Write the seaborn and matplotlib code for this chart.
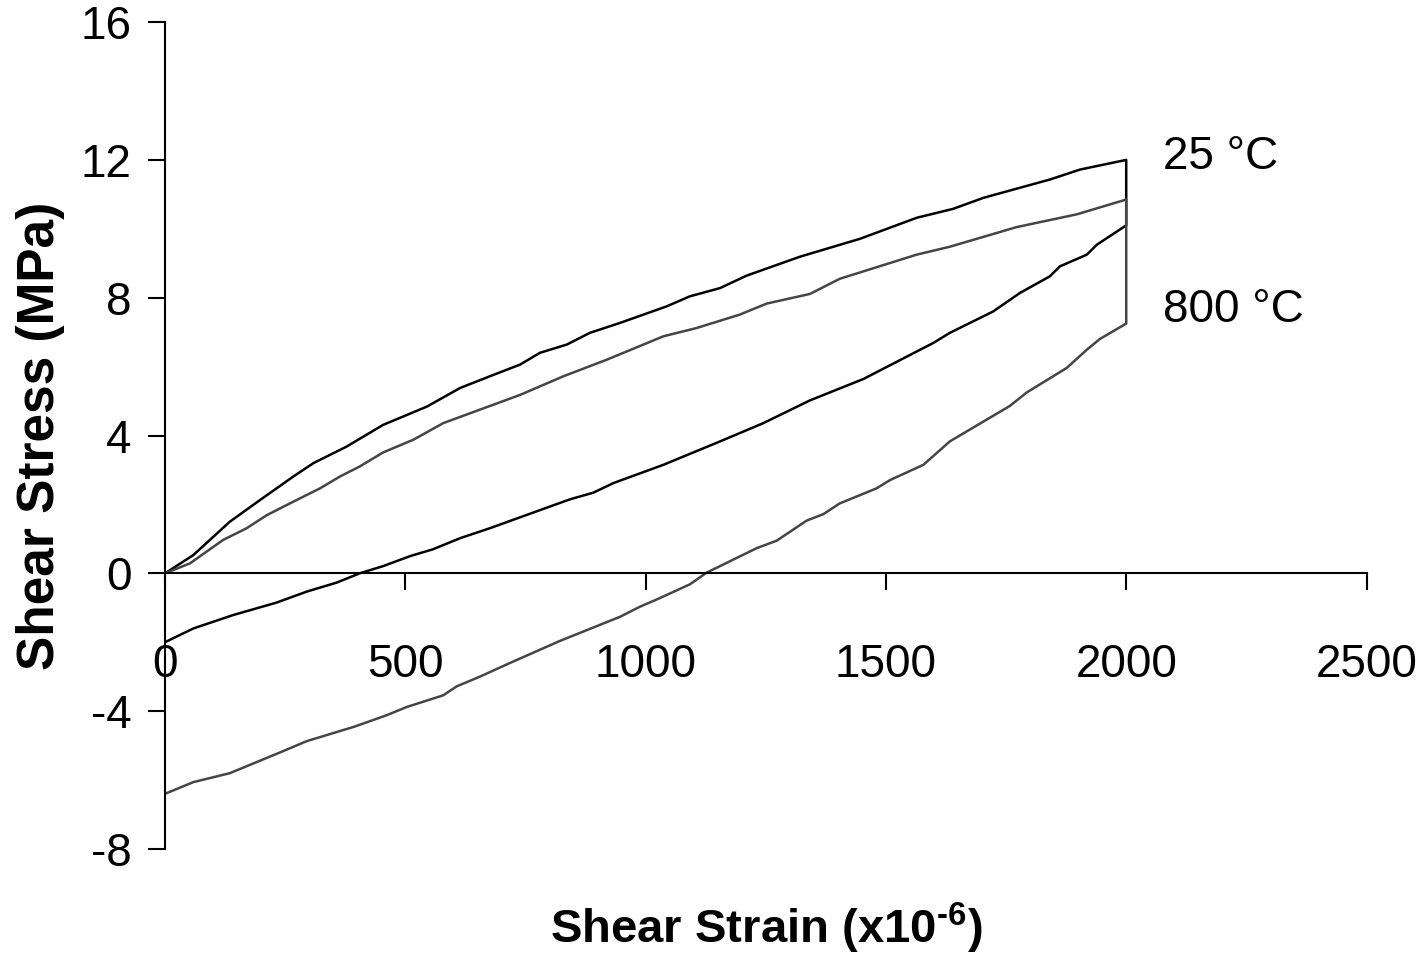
import pandas as pd
import matplotlib
matplotlib.use("Agg")
import matplotlib.pyplot as plt
import seaborn as sns

# hysteresis loops (strain in 1e-6, stress in MPa)
strain_25_load = [0, 59, 135, 198, 267, 309, 378, 454, 545, 614, 676, 739, 780, 836, 884,
                  947, 1044, 1092, 1155, 1210, 1321, 1446, 1564, 1640, 1703, 1841, 1904, 2000]
stress_25_load = [0.0, 0.53, 1.5, 2.13, 2.81, 3.2, 3.68, 4.31, 4.84, 5.38, 5.72, 6.06, 6.40, 6.64, 6.98,
                  7.27, 7.75, 8.04, 8.28, 8.64, 9.19, 9.71, 10.32, 10.58, 10.90, 11.43, 11.72, 12.0]
strain_25_unload = [2000, 1939, 1918, 1862, 1841, 1779, 1723, 1633, 1599, 1453, 1342, 1245, 1155, 1037,
                    933, 891, 843, 676, 614, 558, 510, 454, 405, 357, 295, 232, 142, 59, 0]
stress_25_unload = [10.1, 9.54, 9.25, 8.91, 8.62, 8.14, 7.60, 6.98, 6.69, 5.64, 5.02, 4.36, 3.83, 3.15,
                    2.62, 2.34, 2.15, 1.31, 1.02, 0.70, 0.50, 0.21, 0.0, -0.27, -0.53, -0.85, -1.21, -1.6, -2.0]

strain_800_load = [0, 52, 121, 170, 212, 267, 323, 364, 405, 454, 517, 579, 655, 739, 829, 919,
                   1037, 1106, 1196, 1252, 1342, 1404, 1564, 1633, 1772, 1897, 2000]
stress_800_load = [0.0, 0.29, 0.97, 1.31, 1.69, 2.08, 2.47, 2.81, 3.10, 3.51, 3.88, 4.36, 4.75, 5.18, 5.72, 6.20,
                   6.88, 7.12, 7.51, 7.83, 8.11, 8.55, 9.25, 9.48, 10.05, 10.42, 10.85]
strain_800_unload = [2000, 1945, 1918, 1876, 1793, 1758, 1633, 1578, 1509, 1481, 1404, 1370, 1335, 1273,
                     1231, 1127, 1092, 1023, 988, 947, 822, 718, 655, 607, 579, 503, 461, 392, 295, 246,
                     135, 59, 0]
stress_800_unload = [7.25, 6.80, 6.49, 5.96, 5.25, 4.86, 3.83, 3.15, 2.71, 2.47, 2.03, 1.72, 1.53, 0.95,
                     0.73, 0.02, -0.32, -0.76, -0.97, -1.26, -1.96, -2.6, -3.0, -3.28, -3.54, -3.88, -4.12,
                     -4.46, -4.87, -5.16, -5.80, -6.06, -6.40]

temps = ["25 °C", "800 °C"]
x_ticks = [0, 500, 1000, 1500, 2000, 2500]
y_ticks = [-8, -4, 0, 4, 8, 12, 16]

PALETTE = {"25 °C": "#000000", "800 °C": "#454545"}


def loop(strain_load, stress_load, strain_unload, stress_unload, label):
    return pd.DataFrame({
        "strain": strain_load + strain_unload,
        "stress": stress_load + stress_unload,
        "temp": label,
    })


df = pd.concat([
    loop(strain_25_load, stress_25_load, strain_25_unload, stress_25_unload, temps[0]),
    loop(strain_800_load, stress_800_load, strain_800_unload, stress_800_unload, temps[1]),
], ignore_index=True)

sns.set_style("ticks")
plt.rcParams["font.family"] = ["Liberation Sans", "DejaVu Sans"]
plt.rcParams["mathtext.fontset"] = "custom"
plt.rcParams["mathtext.rm"] = "Liberation Sans:bold"
plt.rcParams["axes.unicode_minus"] = False
plt.rcParams["text.color"] = "black"
plt.rcParams["axes.labelcolor"] = "black"

fig = plt.figure(figsize=(14.26, 9.61), dpi=100)
ax = fig.add_axes([0.1157, 0.1166, 0.8426, 0.8604])

sns.lineplot(data=df, x="strain", y="stress", hue="temp", palette=PALETTE,
             estimator=None, sort=False, linewidth=1.8, legend=False, ax=ax)

ax.set_xlim(0, 2500)
ax.set_ylim(-8, 16)
ax.set_xticks(x_ticks)
ax.set_yticks(y_ticks)

ax.spines["top"].set_visible(False)
ax.spines["right"].set_visible(False)
ax.spines["bottom"].set_position(("data", 0))
for s in ["left", "bottom"]:
    ax.spines[s].set_linewidth(1.5)
    ax.spines[s].set_color("black")

ax.tick_params(axis="both", direction="out", length=12, width=1.5, color="black",
               labelsize=33, labelcolor="black")
ax.tick_params(axis="x", pad=38)
ax.tick_params(axis="y", pad=12)

ax.set_xlabel(r"Shear Strain (x10$^{\text{-6}}$)", fontsize=34, fontweight="bold", va="center")
ax.xaxis.set_label_coords(0.5, -0.096)
ax.set_ylabel("Shear Stress (MPa)", fontsize=37, fontweight="bold", va="center")
ax.yaxis.set_label_coords(-0.104, 0.5)

ax.text(2077, 12.08, temps[0], fontsize=33, ha="left", va="center")
ax.text(2077, 7.64, temps[1], fontsize=33, ha="left", va="center")

fig.savefig("out.png", dpi=100)
